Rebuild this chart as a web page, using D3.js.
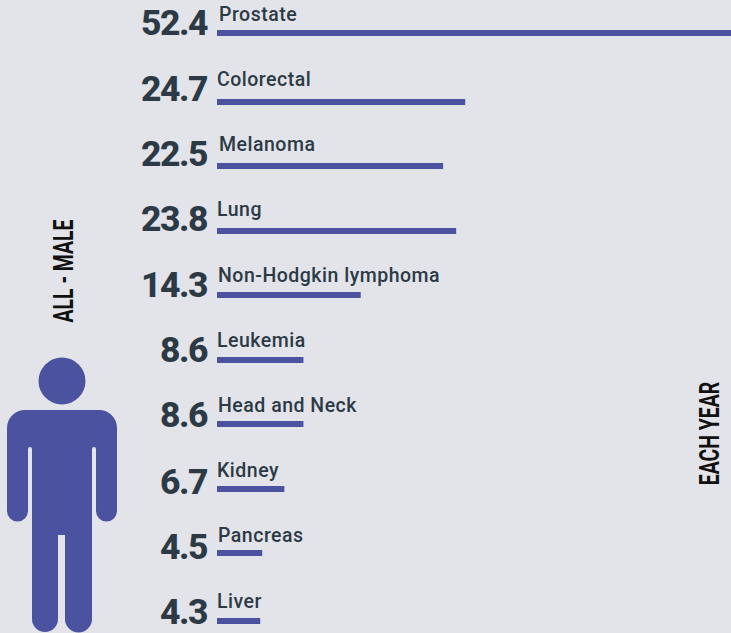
<!DOCTYPE html>
<html>
<head>
<meta charset="utf-8">
<script src="https://cdn.jsdelivr.net/npm/d3@7"></script>
<style>
html,body{margin:0;padding:0;background:#e3e3ea;overflow:hidden}
svg{display:block}
</style>
</head>
<body>
<svg id="chart" width="731" height="633"></svg>
<script>
const cancers = ["Prostate","Colorectal","Melanoma","Lung","Non-Hodgkin lymphoma","Leukemia","Head and Neck","Kidney","Pancreas","Liver"];
const rates = [52.4,24.7,22.5,23.8,14.3,8.6,8.6,6.7,4.5,4.3];
const barRows = [33,102,166,231,295,360,424,489,553,621];
const numberRows = [35,101,166,231,297,362,427,494,559,624];
const labelRows = [21,86,151,216,282,347,412,477,542,608];
const labelLefts = [219,217,219,217,218,217,218,217,218,217];

const ink = "#2c3a45", accent = "#4b52a0";
const svg = d3.select("#chart");

const x = d3.scaleLinear().domain([0,10]).range([217,317.5]);
const barY = d3.scaleOrdinal().domain(cancers).range(barRows);
const numberY = d3.scaleOrdinal().domain(cancers).range(numberRows);
const labelY = d3.scaleOrdinal().domain(cancers).range(labelRows);
const labelX = d3.scaleOrdinal().domain(cancers).range(labelLefts);

const rows = svg.selectAll("g.row").data(cancers).join("g").attr("class","row");

rows.append("rect")
  .attr("x",x(0))
  .attr("y",d=>barY(d)-3)
  .attr("width",(d,i)=>x(rates[i])-x(0))
  .attr("height",6)
  .attr("fill",accent);

rows.append("text")
  .attr("x",207)
  .attr("y",d=>numberY(d))
  .attr("text-anchor","end")
  .attr("font-family","Roboto, sans-serif")
  .attr("font-weight",800)
  .attr("font-size",35.5)
  .attr("letter-spacing",-1.5)
  .attr("fill",ink)
  .text((d,i)=>rates[i].toFixed(1));

rows.append("text")
  .attr("x",d=>labelX(d))
  .attr("y",d=>labelY(d))
  .attr("font-family","Roboto, sans-serif")
  .attr("font-weight",500)
  .attr("font-size",19.5)
  .attr("letter-spacing",0.5)
  .attr("fill",ink)
  .text(d=>d);

// Rotated side captions, stretched across the reading direction
function sideCaption(cx,cy,label){
  svg.append("text")
    .attr("transform",`translate(${cx},${cy}) rotate(-90) scale(1,1.4)`)
    .attr("text-anchor","middle")
    .attr("font-family","Roboto, sans-serif")
    .attr("font-weight",700)
    .attr("font-size",19.4)
    .attr("fill","#111")
    .text(label);
}
sideCaption(73,271,"ALL - MALE");
sideCaption(719,433.5,"EACH YEAR");

// Pictogram of a man
const figure = svg.append("g").attr("fill",accent);
figure.append("circle").attr("cx",62).attr("cy",381).attr("r",23.5);
const body = d3.path();
body.moveTo(25,410);
body.lineTo(99,410);
body.arc(99,428,18,-Math.PI/2,0);
body.lineTo(117,511);
body.arc(106.5,511,10.5,0,Math.PI);
body.lineTo(96,449);
body.arc(94,449,2,0,Math.PI,true);
body.lineTo(92,619);
body.arc(78.5,619,13.5,0,Math.PI);
body.lineTo(65,535);
body.lineTo(58,535);
body.lineTo(58,619);
body.arc(45,619,13,0,Math.PI);
body.lineTo(32,449);
body.arc(30,449,2,0,Math.PI,true);
body.lineTo(28,511);
body.arc(17.5,511,10.5,0,Math.PI);
body.lineTo(7,428);
body.arc(25,428,18,Math.PI,Math.PI*1.5);
body.closePath();
figure.append("path").attr("d",body.toString());
</script>
</body>
</html>
